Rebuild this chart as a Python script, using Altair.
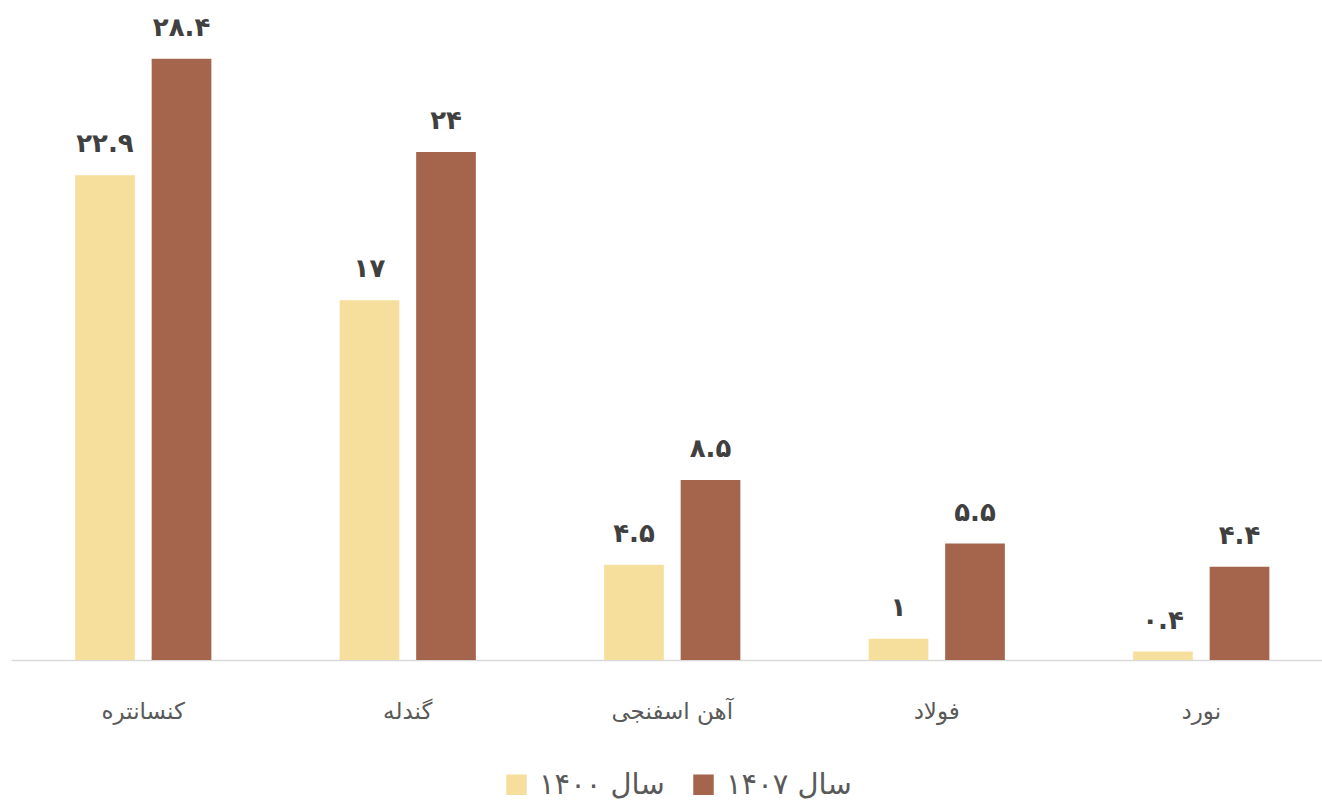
import altair as alt
import pandas as pd

categories = ["کنسانتره", "گندله", "آهن اسفنجی", "فولاد", "نورد"]
series = ["سال ۱۴۰۰", "سال ۱۴۰۷"]
values_1400 = [22.9, 17, 4.5, 1, 0.4]
values_1407 = [28.4, 24, 8.5, 5.5, 4.4]
colors = ["#F6DF9D", "#A5644C"]

_fa = str.maketrans("0123456789", "۰۱۲۳۴۵۶۷۸۹")


def fa(v):
    s = ("%g" % v)
    return s.translate(_fa)


rows = []
for c, a, b in zip(categories, values_1400, values_1407):
    rows.append({"cat": c, "series": series[0], "value": a, "label": fa(a)})
    rows.append({"cat": c, "series": series[1], "value": b, "label": fa(b)})
df = pd.DataFrame(rows)

x = alt.X("cat:N", sort=categories,
          scale=alt.Scale(paddingInner=0.485, paddingOuter=0.2425, range=[0, 1322.5]),
          axis=alt.Axis(title=None, labelAngle=0, ticks=False, labelFontSize=23,
                        labelColor="#595959", labelFont="DejaVu Sans",
                        labelPadding=40, domainColor="#D9D9D9", domainWidth=1.5))
xo = alt.XOffset("series:N", sort=series,
                 scale=alt.Scale(paddingInner=0.22, paddingOuter=0))
y = alt.Y("value:Q", scale=alt.Scale(domain=[0, 30]), axis=None)

bars = alt.Chart(df).mark_bar().encode(
    x=x, xOffset=xo, y=y,
    color=alt.Color("series:N", sort=series,
                    scale=alt.Scale(domain=series, range=colors),
                    legend=alt.Legend(title=None, orient="none", legendX=491, legendY=745,
                                      direction="horizontal", symbolType="square",
                                      symbolSize=420, symbolStrokeWidth=0,
                                      labelFontSize=29, labelColor="#595959",
                                      labelFont="DejaVu Sans", labelOffset=8,
                                      columnPadding=24)),
)

text = alt.Chart(df).mark_text(baseline="bottom", dy=-18, fontSize=26, fontWeight="bold",
                               color="#404040", font="DejaVu Sans").encode(
    x=x, xOffset=xo, y=y, text="label:N"
)

chart = (bars + text).properties(
    width=1311, height=635,
    padding={"left": 11, "top": 25, "right": 0, "bottom": 149},
    autosize=alt.AutoSizeParams(type="none"),
    background="white",
).configure_view(strokeWidth=0, stroke="transparent")

chart.save("out.html", embed_options={"renderer": "svg", "actions": False})
